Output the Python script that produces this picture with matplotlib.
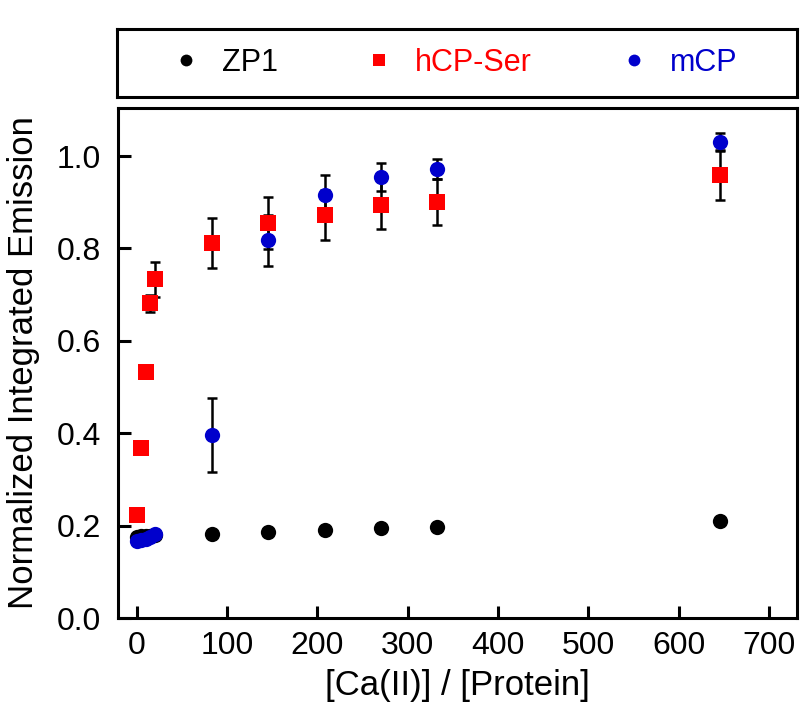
import numpy as np
import matplotlib
matplotlib.use("Agg")
import matplotlib.pyplot as plt
from matplotlib.lines import Line2D

plt.rcParams['font.family'] = ['Liberation Sans', 'DejaVu Sans']

# [Ca(II)] / [Protein] ratios
ratio = [0, 5, 10, 15, 20, 83, 146, 208, 271, 333, 646]

zp1_y = [0.176, 0.177, 0.177, 0.178, 0.179, 0.181, 0.186, 0.191, 0.194, 0.196, 0.209]

hcp_y = [0.222, 0.369, 0.532, 0.681, 0.733, 0.812, 0.855, 0.872, 0.894, 0.900, 0.959]
hcp_err = [0.0, 0.0, 0.012, 0.018, 0.038, 0.054, 0.057, 0.054, 0.052, 0.050, 0.053]

mcp_y = [0.166, 0.168, 0.171, 0.175, 0.181, 0.397, 0.818, 0.916, 0.954, 0.972, 1.031]
mcp_err = [0.0, 0.0, 0.0, 0.0, 0.0, 0.080, 0.055, 0.042, 0.030, 0.022, 0.018]

series_names = ["ZP1", "hCP-Ser", "mCP"]
series_colors = ["black", "#ff0000", "#0000cc"]
series_markers = ["o", "s", "o"]

fig = plt.figure(figsize=(8, 7.09), dpi=100)
ax = fig.add_axes([0.1475, 0.1283, 0.849, 0.7193])

# error bars first, markers on top
for y, err in [(mcp_y, mcp_err), (hcp_y, hcp_err)]:
    ax.errorbar(ratio, y, yerr=err, fmt='none', ecolor='black',
                elinewidth=1.8, capsize=3.6, capthick=1.8, zorder=2)

for y, name, col, mk in zip([zp1_y, hcp_y, mcp_y], series_names, series_colors, series_markers):
    ax.plot(ratio, y, linestyle='none', marker=mk, color=col, markersize=11,
            markeredgewidth=0, zorder=3, label=name)

ax.set_xlim(-20.5, 731)
ax.set_ylim(0, 1.104)
ax.set_xticks(np.arange(0, 701, 100))
ax.set_yticks(np.arange(0, 1.01, 0.2))
ax.yaxis.set_major_formatter(matplotlib.ticker.FormatStrFormatter('%.1f'))
ax.tick_params(direction='in', length=9, width=2.2, labelsize=23, pad=9)
ax.tick_params(axis='y', pad=12)
for sp in ax.spines.values():
    sp.set_linewidth(2.2)

ax.set_xlabel("[Ca(II)] / [Protein]", fontsize=25, labelpad=6)
ax.set_ylabel("Normalized Integrated Emission", fontsize=25, labelpad=12)

# legend box above the plot
lax = fig.add_axes([0.14625, 0.863, 0.85, 0.0959])
lax.set_xticks([])
lax.set_yticks([])
for sp in lax.spines.values():
    sp.set_linewidth(2.2)

handles = [Line2D([], [], linestyle='none', marker=mk, color=col, markersize=8.5,
                  markeredgewidth=0)
           for col, mk in zip(series_colors, series_markers)]
leg = lax.legend(handles, series_names, loc='center', ncol=3, mode='expand',
                 bbox_to_anchor=(0.083, 0.0, 0.829, 1.0), frameon=False,
                 fontsize=22, handlelength=0.8, handletextpad=0.78, borderpad=0,
                 borderaxespad=0)
for txt, col in zip(leg.get_texts(), series_colors):
    txt.set_color(col)

fig.savefig("out.png", dpi=100)
